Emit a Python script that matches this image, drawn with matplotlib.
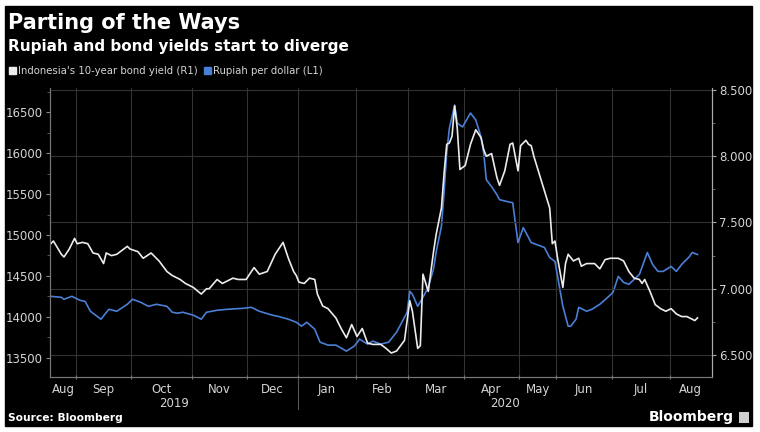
import pandas as pd
import matplotlib
matplotlib.use("Agg")
import matplotlib.pyplot as plt
import matplotlib.transforms as mtransforms
from matplotlib.patches import Rectangle
from matplotlib.ticker import MultipleLocator, FormatStrFormatter

# Indonesian market holidays (chart x axis counts trading days only)
HOLIDAYS = ["2019-12-24", "2019-12-25", "2019-12-31", "2020-01-01",
            "2020-03-25", "2020-04-10", "2020-05-01", "2020-05-07",
            "2020-05-21", "2020-05-22", "2020-05-25", "2020-05-26",
            "2020-05-27", "2020-06-01", "2020-07-31", "2020-08-17"]

YIELD_DATES = [
    "2019-08-19", "2019-08-20", "2019-08-23", "2019-08-26", "2019-08-28", "2019-08-30",
    "2019-09-02", "2019-09-04", "2019-09-06", "2019-09-10", "2019-09-12", "2019-09-16",
    "2019-09-17", "2019-09-19", "2019-09-23", "2019-09-27", "2019-09-30",
    "2019-10-03", "2019-10-07", "2019-10-10", "2019-10-15", "2019-10-18", "2019-10-22",
    "2019-10-24", "2019-10-25", "2019-10-29",
    "2019-11-01", "2019-11-06", "2019-11-08", "2019-11-11", "2019-11-14", "2019-11-18",
    "2019-11-22", "2019-11-26", "2019-11-29",
    "2019-12-04", "2019-12-06", "2019-12-11", "2019-12-16", "2019-12-19", "2019-12-23",
    "2019-12-27", "2019-12-30",
    "2020-01-02", "2020-01-06", "2020-01-08", "2020-01-10", "2020-01-13", "2020-01-15",
    "2020-01-17", "2020-01-22", "2020-01-24", "2020-01-28", "2020-01-30",
    "2020-02-03", "2020-02-05", "2020-02-07", "2020-02-11", "2020-02-14", "2020-02-18",
    "2020-02-20", "2020-02-24", "2020-02-27",
    "2020-03-02", "2020-03-03", "2020-03-05", "2020-03-06", "2020-03-09", "2020-03-11",
    "2020-03-13", "2020-03-16", "2020-03-18", "2020-03-19", "2020-03-20", "2020-03-23",
    "2020-03-24", "2020-03-26", "2020-03-27", "2020-03-30",
    "2020-04-01", "2020-04-03", "2020-04-07", "2020-04-09", "2020-04-13", "2020-04-14",
    "2020-04-16", "2020-04-20", "2020-04-21", "2020-04-23", "2020-04-27", "2020-04-28",
    "2020-04-30",
    "2020-05-04", "2020-05-06", "2020-05-08", "2020-05-11", "2020-05-12", "2020-05-14",
    "2020-05-18", "2020-05-20", "2020-05-28", "2020-05-29",
    "2020-06-02", "2020-06-04", "2020-06-05", "2020-06-08", "2020-06-10", "2020-06-12",
    "2020-06-15", "2020-06-17", "2020-06-22", "2020-06-24", "2020-06-26", "2020-06-30",
    "2020-07-03", "2020-07-07", "2020-07-09", "2020-07-13", "2020-07-15", "2020-07-16",
    "2020-07-17", "2020-07-21", "2020-07-23", "2020-07-27", "2020-07-29",
    "2020-08-03", "2020-08-05", "2020-08-07", "2020-08-11", "2020-08-13", "2020-08-14",
    "2020-08-18",
]
YIELD = [
    7.34, 7.36, 7.26, 7.24, 7.30, 7.38,
    7.34, 7.35, 7.34, 7.27, 7.26, 7.19,
    7.27, 7.25, 7.26, 7.32, 7.30,
    7.28, 7.23, 7.27, 7.21, 7.13, 7.10,
    7.08, 7.07, 7.04,
    7.01, 6.96, 7.00, 7.00, 7.07, 7.04,
    7.08, 7.07, 7.07,
    7.16, 7.11, 7.13, 7.26, 7.35, 7.23,
    7.13, 7.10,
    7.05, 7.04, 7.08, 7.07, 6.96, 6.87,
    6.85, 6.78, 6.70, 6.63, 6.73,
    6.64, 6.70, 6.59, 6.58, 6.58, 6.55,
    6.515, 6.53, 6.61,
    6.91, 6.83, 6.55, 6.57, 7.11, 6.98,
    7.28, 7.41, 7.61, 7.87, 8.09, 8.10,
    8.15, 8.38, 8.21, 7.90,
    7.93, 8.09, 8.20, 8.14, 8.05, 8.00,
    8.02, 7.84, 7.78, 7.89, 8.09, 8.10,
    7.89,
    8.08, 8.12, 8.09, 8.08, 8.00, 7.87,
    7.74, 7.61, 7.34, 7.36,
    7.23, 7.01, 7.19, 7.26, 7.21, 7.23,
    7.17, 7.19, 7.19, 7.15, 7.22, 7.23,
    7.23, 7.21, 7.13, 7.08, 7.07, 7.04,
    7.07, 6.98, 6.88, 6.85, 6.83,
    6.85, 6.81, 6.79, 6.79, 6.77, 6.76,
    6.78,
]

IDR_DATES = [
    "2019-08-19", "2019-08-23", "2019-08-26", "2019-08-29",
    "2019-09-03", "2019-09-05", "2019-09-09", "2019-09-13", "2019-09-18", "2019-09-23",
    "2019-09-27",
    "2019-10-01", "2019-10-04", "2019-10-09", "2019-10-14", "2019-10-18", "2019-10-22",
    "2019-10-24", "2019-10-28",
    "2019-11-01", "2019-11-06", "2019-11-08", "2019-11-14", "2019-11-20", "2019-11-28",
    "2019-12-03", "2019-12-06", "2019-12-13", "2019-12-17", "2019-12-23", "2019-12-30",
    "2020-01-03", "2020-01-07", "2020-01-10", "2020-01-14", "2020-01-17", "2020-01-22",
    "2020-01-28", "2020-01-31",
    "2020-02-04", "2020-02-07", "2020-02-11", "2020-02-14", "2020-02-19", "2020-02-24",
    "2020-02-26", "2020-02-28",
    "2020-03-02", "2020-03-03", "2020-03-05", "2020-03-09", "2020-03-11", "2020-03-13",
    "2020-03-16", "2020-03-18", "2020-03-19", "2020-03-20", "2020-03-23", "2020-03-24",
    "2020-03-26", "2020-03-27", "2020-03-30", "2020-03-31",
    "2020-04-03", "2020-04-07", "2020-04-09", "2020-04-13", "2020-04-14", "2020-04-16",
    "2020-04-20", "2020-04-21", "2020-04-24", "2020-04-28", "2020-04-29", "2020-04-30",
    "2020-05-05", "2020-05-11", "2020-05-13", "2020-05-18", "2020-05-20", "2020-05-29",
    "2020-06-02", "2020-06-04", "2020-06-08", "2020-06-09", "2020-06-11", "2020-06-12",
    "2020-06-17", "2020-06-19", "2020-06-24", "2020-06-29",
    "2020-07-01", "2020-07-03", "2020-07-07", "2020-07-09", "2020-07-13", "2020-07-15",
    "2020-07-20", "2020-07-22", "2020-07-24", "2020-07-28",
    "2020-08-03", "2020-08-05", "2020-08-07", "2020-08-12", "2020-08-13", "2020-08-18",
]
IDR = [
    14252, 14240, 14216, 14252,
    14204, 14190, 14070, 13973, 14094, 14070,
    14155,
    14216, 14180, 14130, 14155, 14130, 14058,
    14046, 14058,
    14022, 13973, 14058, 14082, 14094, 14106,
    14118, 14070, 14022, 14009, 13973, 13936,
    13888, 13936, 13851, 13693, 13657, 13657,
    13584, 13645,
    13730, 13669, 13706, 13669, 13693, 13815,
    13936, 14058,
    14313, 14277, 14130, 14240, 14362, 14585,
    14792, 15108, 15521, 16000, 16300, 16440,
    16585, 16366, 16340, 16318,
    16488, 16403, 16196, 16002, 15674, 15589,
    15492, 15431, 15407, 15394, 15151, 14908,
    15090, 14908, 14884, 14848, 14726, 14677,
    14495, 14130, 13888, 13888, 13973, 14118,
    14070, 14094, 14155, 14240,
    14301, 14495, 14422, 14398, 14459, 14520,
    14787, 14641, 14556, 14556,
    14617, 14556, 14641, 14738, 14787, 14762,
]

MONTH_NAMES = ["Aug", "Sep", "Oct", "Nov", "Dec", "Jan", "Feb",
               "Mar", "Apr", "May", "Jun", "Jul", "Aug"]
YEARS = ["2019", "2020"]

BG = "black"
WHITE = "#ececec"
BLUE = "#4a7fd6"
GRID = "#333333"
TXT = "#d4d4d4"

W, H = 760, 432


def fx(x):
    return x / W


def fy(y):
    return 1 - y / H


cal = pd.bdate_range("2019-08-19", "2020-08-31", freq="C", holidays=HOLIDAYS)
x_yield = cal.searchsorted(pd.to_datetime(YIELD_DATES))
x_idr = cal.searchsorted(pd.to_datetime(IDR_DATES))

fig = plt.figure(figsize=(7.6, 4.32), dpi=100, facecolor="white")
fig.patches.append(Rectangle((fx(5), fy(426)), fx(747), 420 / H,
                             transform=fig.transFigure, color=BG, zorder=-10))

ax = fig.add_axes([fx(50), fy(377), fx(662), 289 / H])
ax.set_facecolor(BG)
ax2 = ax.twinx()

ax.plot(x_idr, IDR, color=BLUE, lw=1.2)
ax2.plot(x_yield, YIELD, color=WHITE, lw=1.2)

x0, x1 = -0.3, 250.5
ax.set_xlim(x0, x1)
ax.set_ylim(13268, 16793)
ax2.set_ylim(6.334, 8.515)

# month boundaries on the trading-day axis
month_id = cal.year * 12 + cal.month
starts = [i for i in range(1, len(cal)) if month_id[i] != month_id[i - 1]]
bounds = [s - 0.5 for s in starts if s - 0.5 < x1]
edges = [x0] + bounds + [x1]
centers = [(a + b) / 2 for a, b in zip(edges[:-1], edges[1:])]

ax.set_xticks(bounds)
ax.set_xticklabels([])
ax.set_xticks(centers, minor=True)
ax.set_xticklabels(MONTH_NAMES[:len(centers)], minor=True)
ax.tick_params(axis="x", which="major", length=3, direction="inout", color="#777777")
ax.tick_params(axis="x", which="minor", length=0, pad=4, labelsize=8.5, labelcolor=TXT)
ax.xaxis.grid(True, which="major", color=GRID, lw=0.8)

ax.yaxis.set_major_locator(MultipleLocator(500))
ax.yaxis.set_minor_locator(MultipleLocator(250))
ax.tick_params(axis="y", which="major", length=3, color="#888888", labelsize=8.5,
               labelcolor=TXT, pad=2)
ax.tick_params(axis="y", which="minor", length=2, color="#666666")

ax2.yaxis.set_major_locator(MultipleLocator(0.5))
ax2.yaxis.set_minor_locator(MultipleLocator(0.25))
ax2.yaxis.set_major_formatter(FormatStrFormatter("%.3f"))
ax2.tick_params(axis="y", which="major", length=3, color="#aaaaaa", labelsize=8.5,
                labelcolor=TXT, pad=2)
ax2.tick_params(axis="y", which="minor", length=2, color="#777777")
ax2.yaxis.grid(True, which="major", color=GRID, lw=0.8)
ax2.set_axisbelow(True)

for a in (ax, ax2):
    a.spines["top"].set_visible(False)
    a.spines["left"].set_color("#777777")
    a.spines["bottom"].set_color("#777777")
    a.spines["right"].set_color("#aaaaaa")

# year labels and separator
trans = mtransforms.blended_transform_factory(ax.transData, ax.transAxes)
jan = bounds[MONTH_NAMES.index("Jan") - 1]
ax.text((x0 + jan) / 2, -0.09, YEARS[0], transform=trans, ha="center", va="center",
        color=TXT, fontsize=8.5)
ax.text((jan + x1) / 2, -0.09, YEARS[1], transform=trans, ha="center", va="center",
        color=TXT, fontsize=8.5)
ax.plot([jan, jan], [0, -0.11], transform=trans, color="#555555", lw=0.8, clip_on=False)

# titles
fig.text(fx(8), fy(23), "Parting of the Ways", color="white", fontsize=15,
         fontweight="bold", va="center", ha="left")
fig.text(fx(8), fy(46), "Rupiah and bond yields start to diverge", color="white",
         fontsize=11, fontweight="bold", va="center", ha="left")

# legend
fig.patches.append(Rectangle((fx(9), fy(74)), fx(7), 7 / H, transform=fig.transFigure,
                             color=WHITE))
fig.text(fx(18), fy(70.5), "Indonesia's 10-year bond yield (R1)", color=TXT,
         fontsize=7.3, va="center", ha="left")
fig.patches.append(Rectangle((fx(204), fy(74)), fx(7), 7 / H, transform=fig.transFigure,
                             color=BLUE))
fig.text(fx(213), fy(70.5), "Rupiah per dollar (L1)", color=TXT,
         fontsize=7.3, va="center", ha="left")

# footer
fig.text(fx(8), fy(418), "Source: Bloomberg", color="white", fontsize=7.7,
         fontweight="bold", va="center", ha="left")
fig.text(fx(734), fy(417), "Bloomberg", color="white", fontsize=10,
         fontweight="bold", va="center", ha="right")
fig.patches.append(Rectangle((fx(739), fy(423)), fx(10), 11 / H, transform=fig.transFigure,
                             facecolor="#cfcfcf", edgecolor="none"))

fig.savefig("out.png", dpi=100, facecolor=fig.get_facecolor())
